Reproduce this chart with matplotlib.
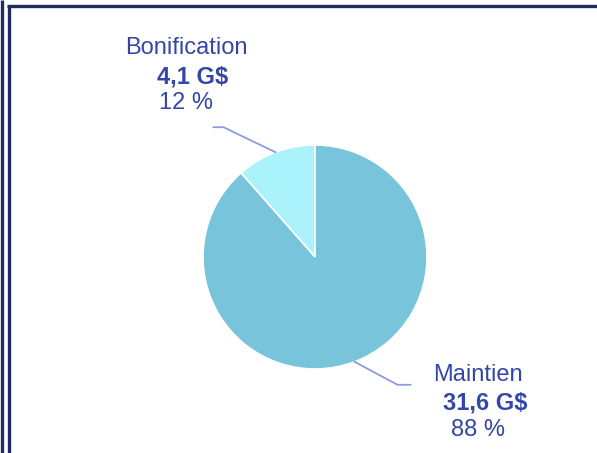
import numpy as np
import matplotlib
matplotlib.use('Agg')
import matplotlib.pyplot as plt
from matplotlib.lines import Line2D

# Data
categories = ['Bonification', 'Maintien']
amounts = [4.1, 31.6]
amount_labels = ['4,1 G$', '31,6 G$']
pct_labels = ['12 %', '88 %']
colors = ['#AAF3FC', '#78C4DA']

W, H = 597, 453
textColor = '#3447A8'
lineColor = '#8E9AE0'
frameColor = '#222C63'

plt.rcParams['font.family'] = ['Liberation Sans', 'DejaVu Sans']

fig = plt.figure(figsize=(W / 100., H / 100.), dpi=100)
fig.patch.set_facecolor('white')

# Frame lines (left double line and top line)
def px(x, y):
    return x / float(W), 1 - y / float(H)

for (x0, y0, x1, y1, lw) in [(1.5, 0, 1.5, H, 2.4), (8.5, 6, 8.5, H, 2.4), (7.3, 6.3, W, 6.3, 2.4)]:
    a, b = px(x0, y0)
    c, d = px(x1, y1)
    fig.add_artist(Line2D([a, c], [b, d], color=frameColor, linewidth=lw,
                          transform=fig.transFigure, solid_capstyle='butt'))

# Pie: centre (315, 257) px, radius 112 px
cx, cy, r = 315, 257, 112
ax = fig.add_axes([(cx - r) / float(W), (H - cy - r) / float(H), 2 * r / float(W), 2 * r / float(H)])
wedges, _ = ax.pie(amounts, colors=colors, startangle=90, counterclock=True,
                   wedgeprops=dict(edgecolor='white', linewidth=1.2))
ax.set_xlim(-1, 1)
ax.set_ylim(-1, 1)
ax.set_aspect('equal')
ax.axis('off')

# Leader lines (elbow offsets in pie radius units)
elbows = [(-52 / 112., 25 / 112., -10 / 112.), (43 / 112., -23 / 112., 13 / 112.)]
for w, (ex, ey, hx) in zip(wedges, elbows):
    mid = np.deg2rad((w.theta1 + w.theta2) / 2.)
    x0, y0 = np.cos(mid), np.sin(mid)
    xs = [x0, x0 + ex, x0 + ex + hx]
    ys = [y0, y0 + ey, y0 + ey]
    ax.plot(xs, ys, color=lineColor, linewidth=1.3, clip_on=False)

# Labels (name / amount / percentage)
fs = 17
label_pos = [((186, 48), (193, 77), (186, 103)),
             ((478, 375), (485, 403), (478, 430))]
for name, amt, pct, pos in zip(categories, amount_labels, pct_labels, label_pos):
    for txt, (x, y), wt in zip([name, amt, pct], pos, ['normal', 'bold', 'normal']):
        fx, fy = px(x, y)
        fig.text(fx, fy, txt, ha='center', va='center', fontsize=fs,
                 fontweight=wt, color=textColor)

fig.savefig('out.png', dpi=100)
